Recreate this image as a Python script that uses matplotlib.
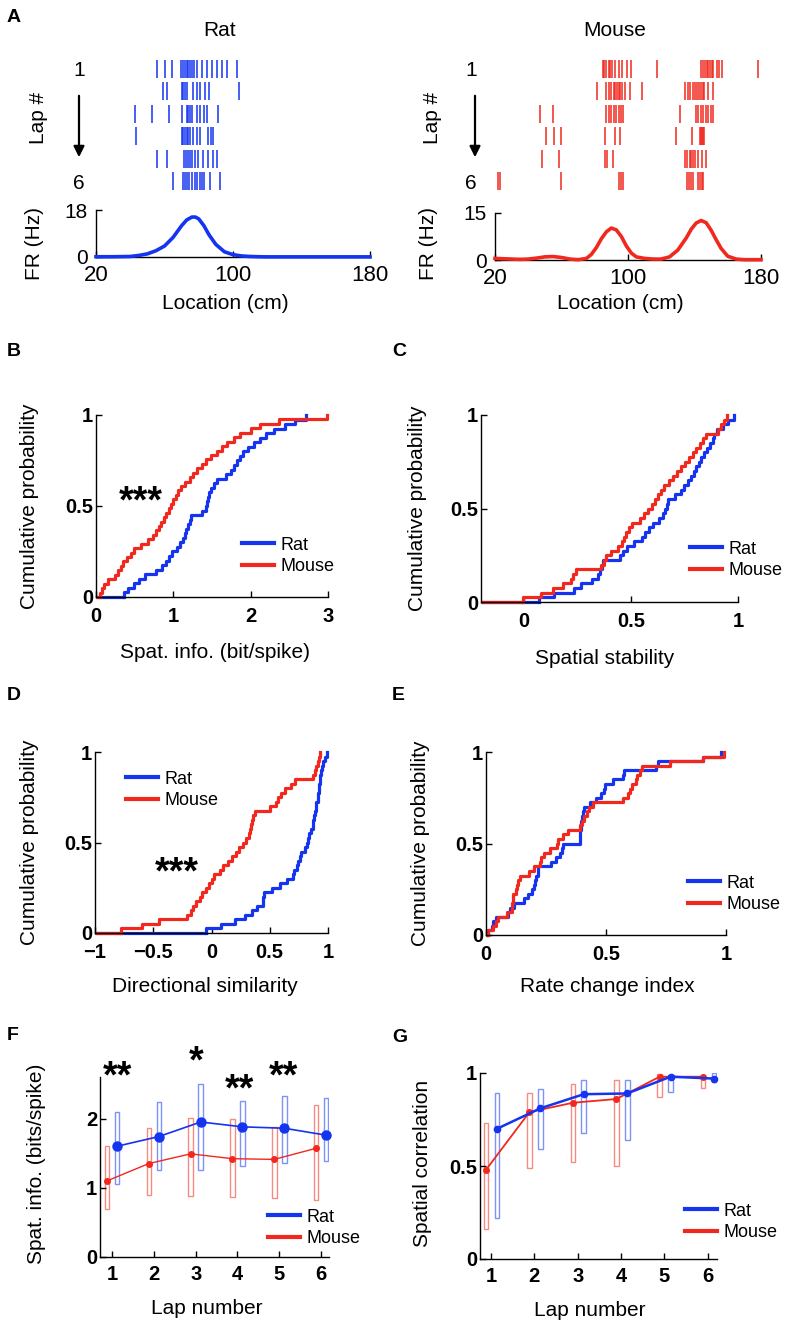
import matplotlib
matplotlib.use('Agg')
import matplotlib.pyplot as plt
from matplotlib.lines import Line2D

W, H = 787, 1324
BLUE = '#1434f0'
RED = '#f0281e'
LIGHT_BLUE = '#7d93f5'
LIGHT_RED = '#f58c82'

LAPS = [1, 2, 3, 4, 5, 6]

# --- A: spike rasters (cm on track), one list per lap ---
rat_spikes = [
  [55.4, 60.3, 64.6, 69.4, 70.6, 72.0, 72.9, 73.9, 74.9, 75.9, 77.2, 78.8, 81.7, 84.6, 87.5, 90.5, 93.4, 96.3, 102.5],
  [59.3, 61.3, 70.0, 71.0, 72.0, 72.9, 76.8, 78.8, 80.7, 83.6, 86.2, 103.5],
  [42.8, 52.5, 62.8, 70.0, 72.9, 73.9, 74.9, 75.9, 78.8, 80.7, 83.1, 85.0, 91.4],
  [43.4, 70.0, 71.0, 72.0, 72.9, 73.9, 74.9, 76.8, 78.8, 80.7, 85.6, 87.0, 88.1],
  [55.8, 61.3, 71.4, 72.6, 73.9, 74.9, 75.9, 77.8, 79.8, 82.7, 85.6, 88.5, 90.5],
  [65.2, 70.6, 72.0, 72.9, 74.5, 75.9, 77.8, 79.2, 80.7, 81.7, 83.1, 86.6, 92.4],
]
mouse_spikes = [
  [84.8, 85.8, 87.0, 88.4, 89.4, 90.4, 92.4, 94.4, 96.4, 99.4, 101.8, 117.4,
   144.0, 145.0, 146.4, 147.4, 148.4, 149.4, 150.4, 151.4, 153.4, 155.0, 156.8, 178.0],
  [81.4, 87.0, 88.4, 89.8, 91.4, 92.4, 93.4, 94.4, 95.4, 96.4, 98.4, 101.0, 108.4,
   134.4, 135.8, 137.4, 139.0, 140.4, 141.8, 143.0, 144.0, 145.0, 146.0, 148.4, 151.4],
  [47.0, 55.0, 87.0, 88.4, 89.8, 91.4, 92.9, 94.4, 95.8, 97.0,
   131.0, 141.0, 142.4, 143.8, 145.4, 147.0, 148.4, 150.0, 151.4],
  [50.4, 55.4, 59.8, 86.4, 92.4, 95.4, 129.0, 138.4, 143.4, 144.0, 144.6, 145.2, 145.8],
  [48.0, 58.4, 86.4, 87.4, 91.0, 134.4, 135.4, 137.0, 137.8, 139.0, 140.4, 142.4, 144.4, 147.0],
  [22.0, 22.8, 59.8, 94.4, 95.8, 97.0, 135.4, 136.4, 137.8, 139.0, 142.4, 143.4, 144.4, 145.4],
]

# --- A: firing-rate maps ---
rat_fr_loc = [20, 30, 40, 45, 50, 55, 60, 65, 70, 73, 76, 78, 80, 83, 86, 90, 95, 100, 105, 110, 115, 120, 140, 160, 180]
rat_fr_hz = [0.1, 0.1, 0.2, 0.6, 1.2, 2.4, 4.2, 7.5, 12.0, 14.2, 15.3, 15.3, 14.6, 12.0, 8.5, 4.8, 2.0, 0.9, 0.4, 0.2, 0.1, 0.05, 0.05, 0.05, 0.05]
mouse_fr_loc = [20, 25, 30, 35, 40, 45, 50, 55, 60, 65, 70, 75, 78, 81, 84, 87, 90, 93, 96, 99, 102, 105, 110, 115,
                120, 125, 130, 135, 138, 141, 144, 147, 150, 153, 156, 160, 165, 170, 175, 180]
mouse_fr_hz = [0.5, 0.4, 0.3, 0.2, 0.3, 0.6, 1.0, 1.1, 0.8, 0.3, 0.1, 0.5, 1.8, 4.0, 6.8, 9.0, 10.2, 9.6, 7.5, 4.5, 2.2, 1.0, 0.5, 0.3,
               0.3, 1.0, 3.2, 7.0, 9.8, 11.8, 12.6, 11.9, 9.5, 6.5, 3.7, 1.2, 0.3, 0.1, 0.1, 0.1]

# --- B: spatial information (bit/spike), per cell ---
rat_spat_info = [0.36, 0.42, 0.49, 0.56, 0.64, 0.77, 0.85, 0.90, 0.94, 0.985, 1.05, 1.09, 1.12, 1.15, 1.17, 1.19, 1.21, 1.23,
                 1.37, 1.42, 1.43, 1.45, 1.46, 1.49, 1.52, 1.56, 1.68, 1.74, 1.78, 1.82, 1.86, 1.90, 1.96, 2.04, 2.12, 2.20,
                 2.30, 2.44, 2.57, 2.71]
mouse_spat_info = [0.055, 0.08, 0.105, 0.15, 0.24, 0.28, 0.32, 0.355, 0.40, 0.45, 0.49, 0.58, 0.67, 0.74, 0.77, 0.81, 0.84,
                   0.875, 0.91, 0.94, 0.97, 1.00, 1.03, 1.065, 1.10, 1.15, 1.21, 1.26, 1.31, 1.37, 1.42, 1.49, 1.56, 1.63,
                   1.69, 1.78, 1.86, 2.00, 2.12, 2.36, 2.99]

# --- C: spatial stability ---
rat_stability = [0.07, 0.14, 0.235, 0.265, 0.32, 0.345, 0.356, 0.363, 0.37, 0.447, 0.463, 0.48, 0.515, 0.55, 0.568, 0.586,
                 0.605, 0.63, 0.652, 0.66, 0.667, 0.675, 0.705, 0.736, 0.75, 0.767, 0.782, 0.793, 0.804, 0.816, 0.826,
                 0.84, 0.855, 0.87, 0.881, 0.89, 0.90, 0.93, 0.955, 0.98]
mouse_stability = [-0.005, 0.08, 0.135, 0.185, 0.22, 0.23, 0.243, 0.36, 0.372, 0.385, 0.408, 0.44, 0.457, 0.468, 0.479,
                   0.49, 0.507, 0.543, 0.563, 0.58, 0.597, 0.611, 0.625, 0.639, 0.654, 0.676, 0.697, 0.717, 0.735, 0.753,
                   0.771, 0.789, 0.806, 0.821, 0.836, 0.85, 0.905, 0.92, 0.935, 0.95]

# --- D: directional similarity ---
rat_direction = [-0.05, 0.08, 0.20, 0.29, 0.35, 0.39, 0.44, 0.44, 0.45, 0.52, 0.59, 0.65, 0.70, 0.71, 0.73, 0.74, 0.76,
                 0.77, 0.80, 0.82, 0.83, 0.84, 0.85, 0.87, 0.875, 0.88, 0.89, 0.895, 0.90, 0.91, 0.915, 0.92, 0.925,
                 0.93, 0.935, 0.94, 0.95, 0.96, 0.97, 0.99]
mouse_direction = [-0.78, -0.60, -0.45, -0.21, -0.18, -0.16, -0.13, -0.10, -0.08, -0.05, -0.02, 0.00, 0.02, 0.07, 0.10,
                   0.14, 0.18, 0.21, 0.24, 0.27, 0.30, 0.32, 0.33, 0.34, 0.35, 0.36, 0.37, 0.50, 0.55, 0.57, 0.60, 0.63,
                   0.68, 0.72, 0.87, 0.89, 0.90, 0.91, 0.92, 0.93]

# --- E: rate change index ---
rat_rate_change = [0.01, 0.024, 0.03, 0.042, 0.093, 0.10, 0.115, 0.16, 0.175, 0.19, 0.20, 0.205, 0.21, 0.215, 0.218, 0.27,
                   0.29, 0.31, 0.315, 0.32, 0.39, 0.39, 0.392, 0.395, 0.395, 0.40, 0.405, 0.41, 0.433, 0.46, 0.48, 0.49,
                   0.495, 0.53, 0.57, 0.575, 0.71, 0.715, 0.905, 0.98]
mouse_rate_change = [0.01, 0.03, 0.04, 0.05, 0.086, 0.107, 0.11, 0.112, 0.114, 0.125, 0.13, 0.135, 0.14, 0.18, 0.20, 0.225,
                     0.23, 0.24, 0.267, 0.294, 0.30, 0.32, 0.34, 0.39, 0.40, 0.41, 0.42, 0.43, 0.447, 0.57, 0.59, 0.60,
                     0.61, 0.625, 0.63, 0.64, 0.65, 0.767, 0.905, 0.99]

# --- F: spatial info per lap (median and quartiles) ---
rat_si_med = [1.60, 1.74, 1.95, 1.88, 1.86, 1.76]
rat_si_q1 = [1.06, 1.25, 1.25, 1.32, 1.36, 1.39]
rat_si_q3 = [2.10, 2.24, 2.50, 2.25, 2.33, 2.30]
mouse_si_med = [1.10, 1.35, 1.49, 1.42, 1.41, 1.57]
mouse_si_q1 = [0.70, 0.90, 0.88, 0.87, 0.85, 0.83]
mouse_si_q3 = [1.61, 1.87, 2.01, 2.00, 1.88, 2.19]
si_star_laps = [1.12, 3.0, 4.05, 5.1]
si_star_y = [2.6, 2.81, 2.41, 2.59]
si_star_text = ['**', '*', '**', '**']

# --- G: spatial correlation per lap ---
rat_corr_med = [0.70, 0.81, 0.886, 0.89, 0.98, 0.97]
rat_corr_q1 = [0.22, 0.59, 0.68, 0.64, 0.90, 0.95]
rat_corr_q3 = [0.89, 0.915, 0.96, 0.96, 0.99, 1.0]
mouse_corr_med = [0.48, 0.79, 0.84, 0.86, 0.98, 0.98]
mouse_corr_q1 = [0.16, 0.49, 0.52, 0.50, 0.87, 0.92]
mouse_corr_q3 = [0.73, 0.89, 0.94, 0.96, 0.995, 0.99]

plt.rcParams['font.family'] = ['Liberation Sans', 'DejaVu Sans']
plt.rcParams['axes.linewidth'] = 1.0

fig = plt.figure(figsize=(W / 100, H / 100), dpi=100)


def rect(l, t, r, b):
  return [l / W, 1 - b / H, (r - l) / W, (b - t) / H]


def fpos(x, y):
  return (x / W, 1 - y / H)


def put_labels(ax, xlabel, xpos, ylabel, ypos, size=15):
  ax.set_xlabel(xlabel, fontsize=size)
  ax.xaxis.set_label_coords(*fpos(*xpos), transform=fig.transFigure)
  ax.xaxis.label.set_va('center')
  ax.set_ylabel(ylabel, fontsize=size)
  ax.yaxis.set_label_coords(*fpos(*ypos), transform=fig.transFigure)
  ax.yaxis.label.set_va('center')


def matlab_axes(ax):
  ax.spines['top'].set_visible(False)
  ax.spines['right'].set_visible(False)
  ax.tick_params(direction='in', length=4, width=1)


def panel_letter(letter, x, y):
  fig.text(*fpos(x, y), letter, fontsize=14, fontweight='bold', ha='left', va='center')


def legend_at(ax, x, y, size=13):
  handles = [Line2D([], [], color=BLUE, lw=3), Line2D([], [], color=RED, lw=3)]
  ax.legend(handles, ['Rat', 'Mouse'], loc='center left', bbox_to_anchor=fpos(x, y),
            bbox_transform=fig.transFigure, frameon=False, fontsize=size,
            handlelength=1.75, handletextpad=0.4, labelspacing=0.25,
            borderpad=0, borderaxespad=0)


# ---------------- A ----------------
panel_letter('A', 7, 17)


def rate_block(left, right, spikes, color, fr_loc, fr_hz, fr_top, fr_ymax, title, title_x,
               lap_x, arrow_x, num_pad):
  ax = fig.add_axes(rect(left, 55, right, 195))
  ax.eventplot(spikes, lineoffsets=LAPS, linelengths=0.8, colors=color, linewidths=1.1)
  ax.set_xlim(20, 180)
  ax.set_ylim(6.6, 0.4)
  ax.set_xticks([])
  ax.set_yticks([1, 6])
  ax.set_yticklabels(['1', '6'])
  ax.tick_params(axis='y', length=0, pad=num_pad, labelsize=15)
  for s in ax.spines.values():
    s.set_visible(False)
  fig.text(*fpos(title_x, 30), title, fontsize=15, ha='center', va='center')
  fig.text(*fpos(lap_x, 118), 'Lap #', fontsize=15, rotation=90, ha='center', va='center')
  fig.patches.append(matplotlib.patches.FancyArrowPatch(
      fpos(arrow_x, 93), fpos(arrow_x, 160), transform=fig.transFigure,
      arrowstyle='-|>', mutation_scale=16, lw=1.6, color='black'))

  fr = fig.add_axes(rect(left, fr_top, right, fr_top + 47))
  fr.plot(fr_loc, fr_hz, color=color, lw=2.6, zorder=3, clip_on=False)
  fr.set_xlim(20, 180)
  fr.set_ylim(0, fr_ymax)
  fr.set_xticks([20, 100, 180])
  fr.set_yticks([0, fr_ymax])
  matlab_axes(fr)
  fr.tick_params(axis='x', labelsize=16, pad=6)
  fr.tick_params(axis='y', labelsize=15, pad=6)
  put_labels(fr, 'Location (cm)', (title_x + 5, 303), 'FR (Hz)', (lap_x - 4, 243))


rate_block(96, 370, rat_spikes, BLUE, rat_fr_loc, rat_fr_hz, 210, 18, 'Rat', 220, 38, 79, 8)
rate_block(495, 761, mouse_spikes, RED, mouse_fr_loc, mouse_fr_hz, 213, 15, 'Mouse', 615, 432, 475, 13)


# ---------------- B-E: cumulative distributions ----------------
def cdf_panel(box, rat, mouse, xlim, xticks, xticklabels, xlabel, xlabel_pos, ylabel_x, legend_xy):
  ax = fig.add_axes(rect(*box))
  for vals, color in ((rat, BLUE), (mouse, RED)):
    ax.ecdf(vals, color=color, lw=2.3, clip_on=False)
    ax.hlines(0, xlim[0], min(vals), color=color, lw=2.3, clip_on=False)
  ax.set_xlim(*xlim)
  ax.set_ylim(0, 1)
  ax.set_xticks(xticks)
  ax.set_xticklabels(xticklabels, fontweight='bold')
  ax.set_yticks([0, 0.5, 1])
  ax.set_yticklabels(['0', '0.5', '1'], fontweight='bold')
  matlab_axes(ax)
  ax.tick_params(axis='x', labelsize=14.5, pad=7)
  ax.tick_params(axis='y', labelsize=14.5, pad=2)
  put_labels(ax, xlabel, xlabel_pos, 'Cumulative probability', (ylabel_x, (box[1] + box[3]) / 2))
  legend_at(ax, *legend_xy)
  return ax


ax_b = cdf_panel((96, 415, 328, 597), rat_spat_info, mouse_spat_info, (0, 3), [0, 1, 2, 3],
                 ['0', '1', '2', '3'], 'Spat. info. (bit/spike)', (215, 653), 30, (242, 556))
ax_b.text(0.58, 0.52, '***', fontsize=27, fontweight='bold', ha='center', va='center')
panel_letter('B', 7, 352)

cdf_panel((481, 415, 738, 602), rat_stability, mouse_stability, (-0.2, 1), [0, 0.5, 1],
          ['0', '0.5', '1'], 'Spatial stability', (605, 658), 418, (690, 560))
panel_letter('C', 392, 352)

ax_d = cdf_panel((95, 752, 328, 933), rat_direction, mouse_direction, (-1, 1), [-1, -0.5, 0, 0.5, 1],
                 ['\u22121', '\u22120.5', '0', '0.5', '1'], 'Directional similarity', (205, 986), 30, (126, 790))
ax_d.text(-0.3, 0.33, '***', fontsize=27, fontweight='bold', ha='center', va='center')
panel_letter('D', 7, 695)

cdf_panel((486, 752, 726, 935), rat_rate_change, mouse_rate_change, (0, 1), [0, 0.5, 1],
          ['0', '0.5', '1'], 'Rate change index', (607, 986), 420, (688, 894))
panel_letter('E', 392, 695)


# ---------------- F-G: per-lap summaries ----------------
def lap_panel(box, xlim, ylim, yticks, yticklabels, rat_med, rat_q1, rat_q3, mouse_med, mouse_q1, mouse_q3,
              rat_off, mouse_off, rat_ms, mouse_ms, rat_lw, mouse_lw, ylabel, ylabel_x, xlabel_pos, legend_xy):
  ax = fig.add_axes(rect(*box))
  rat_x = [lap + rat_off for lap in LAPS]
  mouse_x = [lap + mouse_off for lap in LAPS]
  ax.bar(mouse_x, [q3 - q1 for q1, q3 in zip(mouse_q1, mouse_q3)], bottom=mouse_q1, width=0.11,
         fill=False, edgecolor=LIGHT_RED, lw=1.0)
  ax.bar(rat_x, [q3 - q1 for q1, q3 in zip(rat_q1, rat_q3)], bottom=rat_q1, width=0.11,
         fill=False, edgecolor=LIGHT_BLUE, lw=1.0)
  ax.plot(mouse_x, mouse_med, '-o', color=RED, ms=mouse_ms, lw=mouse_lw, clip_on=False)
  ax.plot(rat_x, rat_med, '-o', color=BLUE, ms=rat_ms, lw=rat_lw, clip_on=False)
  ax.set_xlim(*xlim)
  ax.set_ylim(*ylim)
  ax.set_xticks(LAPS)
  ax.set_xticklabels([str(lap) for lap in LAPS], fontweight='bold')
  ax.set_yticks(yticks)
  ax.set_yticklabels(yticklabels, fontweight='bold')
  matlab_axes(ax)
  ax.tick_params(axis='x', labelsize=14.5, pad=6)
  ax.tick_params(axis='y', labelsize=14.5, pad=2)
  put_labels(ax, 'Lap number', xlabel_pos, ylabel, (ylabel_x, (box[1] + box[3]) / 2 - 3))
  legend_at(ax, *legend_xy)
  return ax


ax_f = lap_panel((100, 1077, 329, 1257), (0.71, 6.19), (0, 2.6), [0, 1, 2], ['0', '1', '2'],
                 rat_si_med, rat_si_q1, rat_si_q3, mouse_si_med, mouse_si_q1, mouse_si_q3,
                 0.12, -0.12, 6.5, 4, 1.2, 1.0, 'Spat. info. (bits/spike)', 37, (207, 1308), (268, 1228))
for lap, yv, txt in zip(si_star_laps, si_star_y, si_star_text):
  ax_f.text(lap, yv, txt, fontsize=27, fontweight='bold', ha='center', va='center')
panel_letter('F', 7, 1035)

lap_panel((480, 1073, 717, 1259), (0.75, 6.21), (0, 1), [0, 0.5, 1], ['0', '0.5', '1'],
          rat_corr_med, rat_corr_q1, rat_corr_q3, mouse_corr_med, mouse_corr_q1, mouse_corr_q3,
          0.14, -0.11, 4.5, 4, 1.8, 1.3, 'Spatial correlation', 422, (590, 1310), (685, 1222))
panel_letter('G', 392, 1037)

fig.savefig('out.png', dpi=100)
